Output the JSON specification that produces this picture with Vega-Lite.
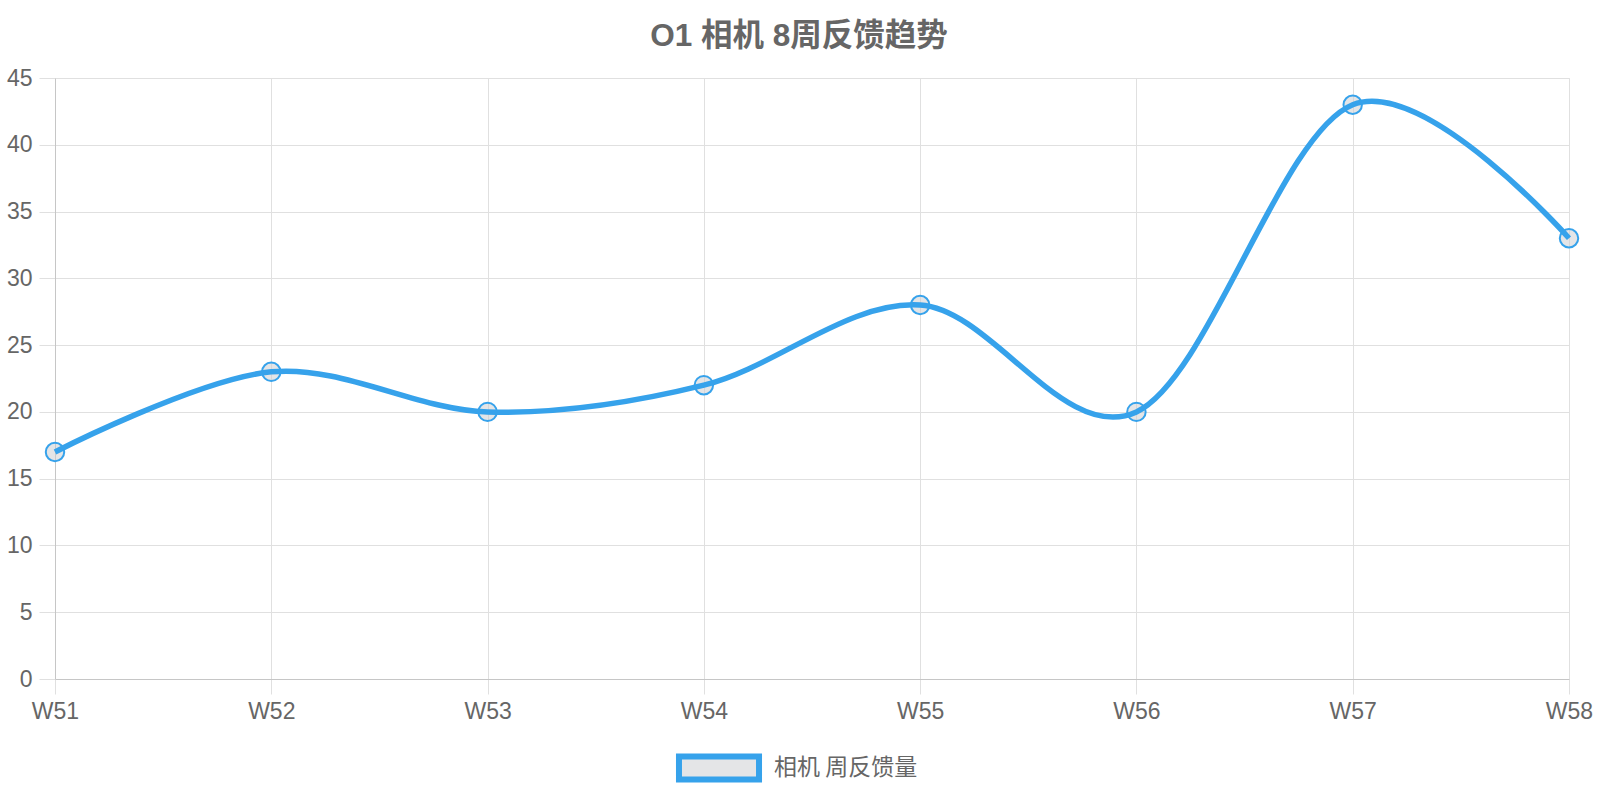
{
  "$schema": "https://vega.github.io/schema/vega-lite/v6.json",
  "width": 1514,
  "height": 601,
  "autosize": {"type": "none"},
  "padding": {"left": 55, "top": 78, "right": 31, "bottom": 121},
  "background": "white",
  "title": {
    "text": "O1 相机 8周反馈趋势",
    "anchor": "middle",
    "dx": -13,
    "offset": -10,
    "baseline": "alphabetic",
    "font": "Liberation Sans, Noto Sans CJK SC",
    "fontSize": 31.5,
    "fontWeight": "bold",
    "color": "#666666"
  },
  "data": {
    "values": [
      {"week": "W51", "value": 17, "series": "相机 周反馈量"},
      {"week": "W52", "value": 23, "series": "相机 周反馈量"},
      {"week": "W53", "value": 20, "series": "相机 周反馈量"},
      {"week": "W54", "value": 22, "series": "相机 周反馈量"},
      {"week": "W55", "value": 28, "series": "相机 周反馈量"},
      {"week": "W56", "value": 20, "series": "相机 周反馈量"},
      {"week": "W57", "value": 43, "series": "相机 周反馈量"},
      {"week": "W58", "value": 33, "series": "相机 周反馈量"}
    ]
  },
  "encoding": {
    "x": {
      "field": "week",
      "type": "ordinal",
      "sort": null,
      "title": null,
      "scale": {"type": "point", "padding": 0},
      "axis": {
        "labelAngle": 0,
        "labelFontSize": 23,
        "labelColor": "#666666",
        "labelFont": "Liberation Sans",
        "labelPadding": 6,
        "tickSize": 15,
        "tickColor": "#e0e0e0",
        "domainColor": "#c6c6c6",
        "grid": true,
        "gridColor": "#e0e0e0"
      }
    },
    "y": {
      "field": "value",
      "type": "quantitative",
      "title": null,
      "scale": {"domain": [0, 45], "nice": false},
      "axis": {
        "values": [0, 5, 10, 15, 20, 25, 30, 35, 40, 45],
        "labelFontSize": 23,
        "labelColor": "#666666",
        "labelFont": "Liberation Sans",
        "labelPadding": 7,
        "tickSize": 16,
        "tickColor": "#e0e0e0",
        "domainColor": "#c6c6c6",
        "grid": true,
        "gridColor": "#e0e0e0"
      }
    }
  },
  "layer": [
    {
      "mark": {
        "type": "point",
        "filled": true,
        "fill": "rgba(201,203,207,0.5)",
        "strokeWidth": 2,
        "size": 340,
        "opacity": 1
      },
      "encoding": {
        "stroke": {
          "field": "series",
          "type": "nominal",
          "title": null,
          "scale": {"range": ["#36A2EB"]},
          "legend": {
            "orient": "none",
            "legendX": 638,
            "legendY": 664,
            "padding": 0,
            "labelFontSize": 23,
            "labelColor": "#666666",
            "labelFont": "Noto Sans CJK SC",
            "labelOffset": 29,
            "symbolType": "M-1.74,-0.5H1.74V0.5H-1.74Z",
            "symbolSize": 2116,
            "symbolStrokeWidth": 6,
            "symbolFillColor": "#e4e5e7",
            "symbolStrokeColor": "#36A2EB",
            "encode": {
              "symbols": {
                "update": {
                  "fill": {"value": "#e4e5e7"},
                  "stroke": {"value": "#36A2EB"},
                  "strokeWidth": {"value": 6},
                  "opacity": {"value": 1},
                  "fillOpacity": {"value": 1}
                }
              }
            }
          }
        }
      }
    },
    {
      "mark": {
        "type": "line",
        "interpolate": "cardinal",
        "tension": 0,
        "color": "#36A2EB",
        "strokeWidth": 5.5
      },
      "encoding": {}
    }
  ]
}
